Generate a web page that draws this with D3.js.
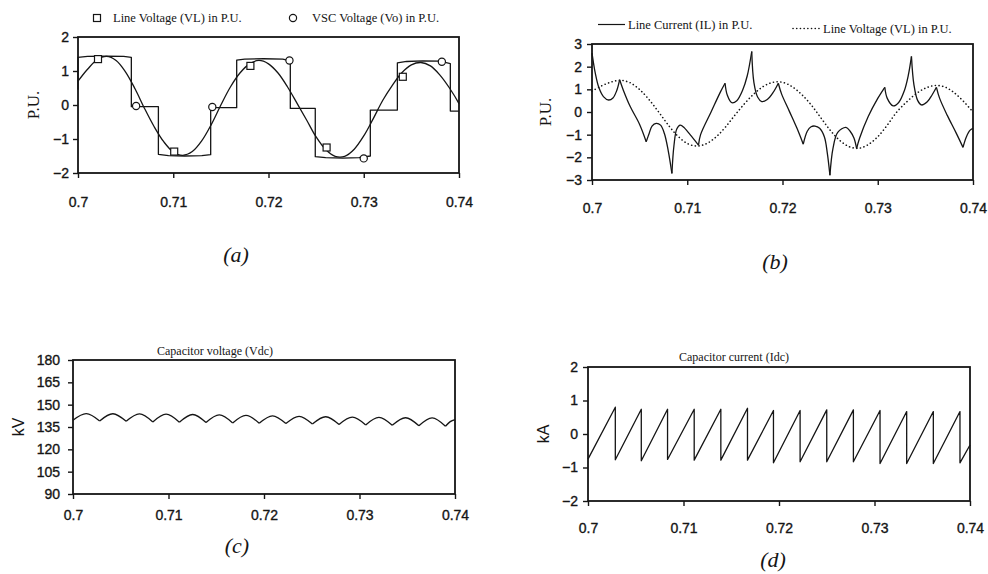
<!DOCTYPE html>
<html>
<head>
<meta charset="utf-8">
<script src="https://cdn.jsdelivr.net/npm/d3@7"></script>
<style>
  body { margin: 0; background: #fff; }
  svg { display: block; }
</style>
</head>
<body>
<svg id="fig" width="988" height="574"></svg>
<script>
// ---------- shared time axis ----------
const timeTicks = [0.70, 0.71, 0.72, 0.73, 0.74];
const timeTickLabels = ["0.7", "0.71", "0.72", "0.73", "0.74"];
const sampleTime = [0.700,0.701,0.702,0.703,0.704,0.705,0.706,0.707,0.708,0.709,
                    0.710,0.711,0.712,0.713,0.714,0.715,0.716,0.717,0.718,0.719,
                    0.720,0.721,0.722,0.723,0.724,0.725,0.726,0.727,0.728,0.729,
                    0.730,0.731,0.732,0.733,0.734,0.735,0.736,0.737,0.738,0.739,0.740];

// ---------- (a) line voltage vs VSC voltage ----------
const puTicksA = [-2, -1, 0, 1, 2];
const lineVoltageA = [0.70,1.05,1.33,1.43,1.31,0.97,0.47,-0.11,-0.64,-1.08,
                      -1.38,-1.48,-1.37,-1.05,-0.57,0.00,0.53,0.94,1.21,1.31,
                      1.21,0.94,0.53,0.05,-0.44,-0.94,-1.31,-1.51,-1.51,-1.30,
                      -0.91,-0.40,0.14,0.58,0.95,1.18,1.25,1.15,0.88,0.50,0.04];
const vscTime = [0.7000,0.7000,0.7010,0.7030,0.7048,0.7056,0.7056,0.70844,0.70844,0.7095,
                 0.7112,0.7130,0.71393,0.71393,0.71666,0.71666,0.7175,0.7195,0.7215,0.72229,
                 0.72229,0.72491,0.72491,0.7260,0.7278,0.7295,0.73069,0.73069,0.73353,0.73353,
                 0.7345,0.7362,0.7380,0.73909,0.73909,0.7400];
const vscVoltage = [0.45,1.40,1.43,1.44,1.43,1.40,-0.05,-0.05,-1.45,-1.49,
                    -1.50,-1.49,-1.46,-0.08,-0.08,1.32,1.35,1.36,1.35,1.30,
                    -0.10,-0.10,-1.52,-1.55,-1.56,-1.55,-1.50,-0.15,-0.15,1.24,
                    1.28,1.30,1.29,1.22,-0.18,-0.18];
const lineMarkTime = [0.7021, 0.7101, 0.7181, 0.7261, 0.7341];
const lineMarkValue = [1.35, -1.37, 1.15, -1.25, 0.83];
const vscMarkTime = [0.7061, 0.7141, 0.7222, 0.7300, 0.7382];
const vscMarkValue = [-0.03, -0.06, 1.31, -1.57, 1.27];

// ---------- (b) line current vs line voltage ----------
const puTicksB = [-3, -2, -1, 0, 1, 2, 3];
const lineCurrentTime = [0.7000,0.70035,0.7007,0.7012,0.70174,0.7022,0.7026,0.7029,
  0.7033,0.7040,0.7050,0.70569,
  0.7060,0.7063,0.70674,0.7072,0.7076,0.7080,0.70839,
  0.7086,0.7089,0.70926,0.7097,0.7103,0.71118,
  0.7114,0.7125,0.7135,0.71397,
  0.7142,0.71468,0.7152,0.7158,0.7163,0.71677,
  0.7170,0.7174,0.71782,0.7184,0.7190,0.71956,
  0.7199,0.7207,0.7215,0.72218,
  0.7226,0.7230,0.72341,0.7239,0.7244,0.7247,0.72498,
  0.7253,0.7258,0.72666,0.7271,0.7275,0.72778,
  0.7281,0.7290,0.7300,0.73074,
  0.7310,0.73162,0.7322,0.7328,0.7332,0.73354,
  0.7338,0.7342,0.73459,0.7352,0.7357,0.73616,
  0.7365,0.7373,0.7382,0.73895,
  0.7393,0.7397,0.7400];
const lineCurrent = [2.60,1.70,1.10,0.68,0.53,0.62,0.95,1.42,
  0.95,0.25,-0.55,-1.31,
  -0.95,-0.62,-0.50,-0.58,-0.95,-1.70,-2.71,
  -1.50,-0.75,-0.58,-0.70,-1.00,-1.46,
  -1.00,0.00,0.90,1.27,
  0.75,0.41,0.50,0.95,1.60,2.67,
  1.30,0.65,0.46,0.55,0.85,1.27,
  0.80,0.05,-0.70,-1.42,
  -0.85,-0.65,-0.62,-0.72,-1.10,-1.80,-2.79,
  -1.60,-0.90,-0.68,-0.85,-1.15,-1.61,
  -1.15,-0.20,0.60,1.09,
  0.60,0.27,0.42,0.95,1.60,2.45,
  1.20,0.50,0.31,0.45,0.75,1.09,
  0.60,-0.15,-0.90,-1.56,
  -1.10,-0.80,-0.72];
// switching instants where the current trace has a sharp corner
const lineCurrentCusps = [0.7029,0.70569,0.70839,0.71118,0.71397,0.71677,0.71956,
                          0.72218,0.72498,0.72778,0.73074,0.73354,0.73616,0.73895];
const lineVoltageB = [0.92,1.15,1.32,1.40,1.29,0.99,0.54,0.00,-0.57,-1.06,
                      -1.39,-1.50,-1.40,-1.11,-0.67,-0.14,0.36,0.80,1.13,1.31,
                      1.31,1.12,0.78,0.32,-0.24,-0.80,-1.25,-1.53,-1.60,-1.44,
                      -1.09,-0.58,0.00,0.43,0.80,1.05,1.17,1.11,0.86,0.47,0.00];

// ---------- (c) capacitor voltage ----------
const kvTicks = [90, 105, 120, 135, 150, 165, 180];
const vdcCuspTime = [0.7000,0.70279,0.70557,0.70836,0.71114,0.71393,0.71672,0.71950,
                     0.72229,0.72507,0.72786,0.73065,0.73343,0.73622,0.73900];
const vdcCusp = [139.6,139.1,138.8,138.4,138.2,138.0,137.7,137.5,
                 137.3,137.0,136.7,136.4,136.1,135.8,135.5];
const vdcPeak = [144.0,143.9,143.8,143.6,143.4,143.1,142.8,142.5,
                 142.2,141.9,141.6,141.4,141.2,141.1];
const vdcTailTime = [0.7390, 0.7395, 0.7400];
const vdcTail = [135.5, 138.6, 140.0];

// ---------- (d) capacitor current ----------
const kaTicks = [-2, -1, 0, 1, 2];
const idcDropTime = [0.70286,0.70558,0.70833,0.71112,0.71391,0.71670,0.71942,
                     0.72221,0.72500,0.72779,0.73058,0.73337,0.73616,0.73895];
const idcTop = [0.80,0.74,0.74,0.74,0.74,0.77,0.70,0.70,0.72,0.72,0.70,0.67,0.67,0.67];
const idcBottom = [-0.77,-0.80,-0.76,-0.78,-0.78,-0.78,-0.86,-0.83,-0.83,-0.83,-0.88,-0.88,-0.88,-0.86];
const idcStart = -0.75;
const idcEnd = -0.33;

// ---------- drawing ----------
const INK = "#151515";
const SANS = "'Liberation Sans', Arial, sans-serif";
const SERIF = "'Liberation Serif', 'Times New Roman', serif";
const svg = d3.select("#fig");

function panel(p) {
  const x = d3.scaleLinear().domain([0.70, 0.74]).range([p.left, p.right]);
  const y = d3.scaleLinear().domain(p.yDomain).range([p.bottom, p.top]);
  const g = svg.append("g");

  const xa = g.append("g")
    .attr("transform", `translate(0,${p.bottom})`)
    .call(d3.axisBottom(x).tickValues(timeTicks)
      .tickFormat((d, i) => timeTickLabels[i])
      .tickSize(5).tickSizeOuter(0).tickPadding(p.xPad));
  const ya = g.append("g")
    .attr("transform", `translate(${p.left},0)`)
    .call(d3.axisLeft(y).tickValues(p.yTicks).tickFormat(d3.format("d"))
      .tickSize(5).tickSizeOuter(0).tickPadding(p.yPad));
  [xa, ya].forEach(a => {
    a.select(".domain").remove();
    a.selectAll("line").attr("stroke", INK).attr("stroke-width", 1.4);
    a.selectAll("text").attr("fill", INK)
      .attr("stroke", INK).attr("stroke-width", 0.35)
      .style("font-family", SANS).style("font-size", "14px");
  });

  // plot frame
  g.append("rect")
    .attr("x", p.left).attr("y", p.top)
    .attr("width", p.right - p.left).attr("height", p.bottom - p.top)
    .attr("fill", "none").attr("stroke", INK).attr("stroke-width", 1.8);

  // y-axis title
  g.append("text")
    .attr("transform", `translate(${p.yTitleX},${(p.top + p.bottom) / 2}) rotate(-90)`)
    .attr("text-anchor", "middle").attr("dy", "0.35em")
    .style("font-family", p.yTitleFont).style("font-size", p.yTitleSize)
    .attr("fill", INK).text(p.yTitle);

  // panel caption
  g.append("text")
    .attr("x", p.capX).attr("y", p.capY).attr("text-anchor", "middle")
    .style("font-family", SERIF).style("font-style", "italic").style("font-size", "22px")
    .attr("fill", INK).text(p.caption);

  return { g, x, y };
}

function trace(pn, xs, ys, curve, extra) {
  const pts = xs.map((t, i) => [t, ys[i]]);
  const line = d3.line().x(d => pn.x(d[0])).y(d => pn.y(d[1])).curve(curve);
  const path = pn.g.append("path").datum(pts)
    .attr("d", line).attr("fill", "none")
    .attr("stroke", INK).attr("stroke-width", 1.3)
    .attr("stroke-linejoin", "round");
  if (extra) extra(path);
  return path;
}

// ----- (a) -----
const A = panel({ left: 78, right: 459, top: 37, bottom: 173, yDomain: [-2, 2],
  yTicks: puTicksA, xPad: 19, yPad: 4, yTitle: "P.U.", yTitleX: 33,
  yTitleFont: SERIF, yTitleSize: "17px", caption: "(a)", capX: 236, capY: 262 });
trace(A, sampleTime, lineVoltageA, d3.curveCatmullRom);
trace(A, vscTime, vscVoltage, d3.curveLinear);
A.g.selectAll(".mk-sq").data(lineMarkTime).join("rect")
  .attr("x", (d) => A.x(d) - 3.5).attr("y", (d, i) => A.y(lineMarkValue[i]) - 3.5)
  .attr("width", 7).attr("height", 7)
  .attr("fill", "#fff").attr("stroke", INK).attr("stroke-width", 1.2);
A.g.selectAll(".mk-ci").data(vscMarkTime).join("circle")
  .attr("cx", (d) => A.x(d)).attr("cy", (d, i) => A.y(vscMarkValue[i]))
  .attr("r", 3.6).attr("fill", "#fff").attr("stroke", INK).attr("stroke-width", 1.2);
// legend (a)
A.g.append("rect").attr("x", 93.5).attr("y", 14.5).attr("width", 7).attr("height", 7)
  .attr("fill", "#fff").attr("stroke", INK).attr("stroke-width", 1.2);
A.g.append("text").attr("x", 113).attr("y", 22).style("font-family", SERIF)
  .style("font-size", "12.5px").attr("fill", INK).text("Line Voltage (VL) in P.U.");
A.g.append("circle").attr("cx", 293).attr("cy", 18).attr("r", 3.6)
  .attr("fill", "#fff").attr("stroke", INK).attr("stroke-width", 1.2);
A.g.append("text").attr("x", 312).attr("y", 22).style("font-family", SERIF)
  .style("font-size", "12.5px").attr("fill", INK).text("VSC Voltage (Vo) in P.U.");

// ----- (b) -----
const B = panel({ left: 592, right: 973, top: 44, bottom: 180, yDomain: [-3, 3],
  yTicks: puTicksB, xPad: 18, yPad: 5, yTitle: "P.U.", yTitleX: 545,
  yTitleFont: SERIF, yTitleSize: "17px", caption: "(b)", capX: 775, capY: 269 });
// the current is drawn arc by arc so each switching corner stays sharp
{
  let segT = [], segV = [];
  lineCurrentTime.forEach((t, i) => {
    segT.push(t); segV.push(lineCurrent[i]);
    if (lineCurrentCusps.includes(t)) {
      trace(B, segT, segV, d3.curveCatmullRom.alpha(0.5));
      segT = [t]; segV = [lineCurrent[i]];
    }
  });
  if (segT.length > 1) trace(B, segT, segV, d3.curveCatmullRom.alpha(0.5));
}
trace(B, sampleTime, lineVoltageB, d3.curveCatmullRom, p => p
  .attr("stroke-width", 1.6).attr("stroke-dasharray", "0.1 3.6").attr("stroke-linecap", "round"));
// legend (b)
B.g.append("line").attr("x1", 598).attr("x2", 625).attr("y1", 24.5).attr("y2", 24.5)
  .attr("stroke", INK).attr("stroke-width", 1.2);
B.g.append("text").attr("x", 628).attr("y", 29).style("font-family", SERIF)
  .style("font-size", "12.5px").attr("fill", INK).text("Line Current (IL) in P.U.");
B.g.append("line").attr("x1", 793).attr("x2", 820).attr("y1", 28.5).attr("y2", 28.5)
  .attr("stroke", INK).attr("stroke-width", 1.6)
  .attr("stroke-dasharray", "0.1 3.6").attr("stroke-linecap", "round");
B.g.append("text").attr("x", 823).attr("y", 33).style("font-family", SERIF)
  .style("font-size", "12.5px").attr("fill", INK).text("Line Voltage (VL) in P.U.");

// ----- (c) -----
const C = panel({ left: 73, right: 455, top: 360, bottom: 494, yDomain: [90, 180],
  yTicks: kvTicks, xPad: 11, yPad: 8, yTitle: "kV", yTitleX: 18,
  yTitleFont: SANS, yTitleSize: "16px", caption: "(c)", capX: 237, capY: 553 });
C.g.append("text").attr("x", 215).attr("y", 355).attr("text-anchor", "middle")
  .style("font-family", SERIF).style("font-size", "12px").attr("fill", INK)
  .text("Capacitor voltage (Vdc)");
// each ripple hump runs cusp -> crest -> cusp
vdcPeak.forEach((pk, i) => {
  const t0 = vdcCuspTime[i], t1 = vdcCuspTime[i + 1];
  trace(C, [t0, (t0 + t1) / 2, t1], [vdcCusp[i], pk, vdcCusp[i + 1]], d3.curveNatural);
});
trace(C, vdcTailTime, vdcTail, d3.curveNatural);

// ----- (d) -----
const D = panel({ left: 588, right: 970, top: 367, bottom: 501, yDomain: [-2, 2],
  yTicks: kaTicks, xPad: 17, yPad: 5, yTitle: "kA", yTitleX: 543,
  yTitleFont: SANS, yTitleSize: "16px", caption: "(d)", capX: 773, capY: 567 });
D.g.append("text").attr("x", 734).attr("y", 361).attr("text-anchor", "middle")
  .style("font-family", SERIF).style("font-size", "12px").attr("fill", INK)
  .text("Capacitor current (Idc)");
const idcT = [0.70], idcV = [idcStart];
idcDropTime.forEach((t, i) => { idcT.push(t, t); idcV.push(idcTop[i], idcBottom[i]); });
idcT.push(0.74); idcV.push(idcEnd);
trace(D, idcT, idcV, d3.curveLinear);
</script>
</body>
</html>
